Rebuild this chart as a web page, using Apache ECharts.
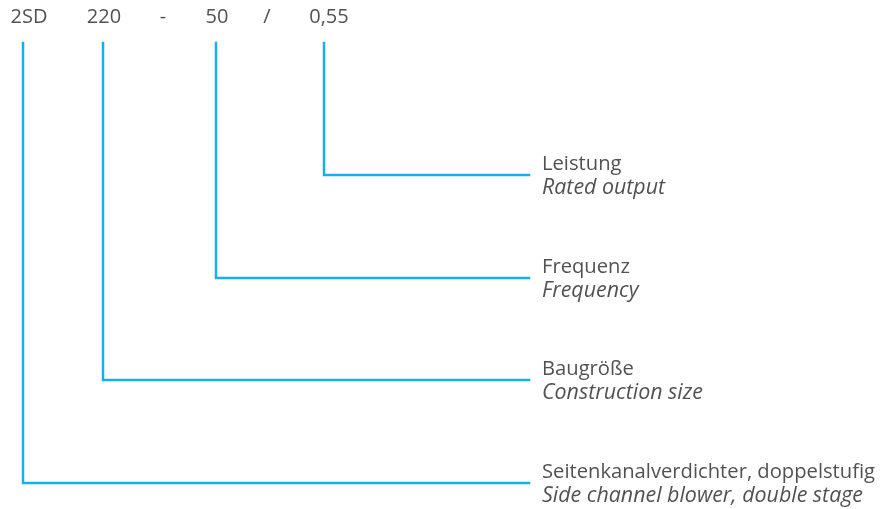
<!DOCTYPE html>
<html>
<head>
<meta charset="utf-8">
<script src="https://cdn.jsdelivr.net/npm/echarts@6/dist/echarts.min.js"></script>
<style>
  html, body { margin: 0; padding: 0; background: #fff; }
  #chart { width: 889px; height: 509px; }
</style>
</head>
<body>
<div id="chart"></div>
<script>
// type code parts, left to right
const codeParts = ['2SD', '220', '-', '50', '/', '0,55']
const codeX = [29, 104, 163, 217, 267, 329]
const codeY = 17

// leader lines: where each one leaves the code and where it turns
const leaderX = [23, 103, 216, 324]
const leaderTop = 43
const leaderLevel = [483, 380, 278, 175]
const leaderEnd = 529

// explanations (German / English)
const labelDe = ['Seitenkanalverdichter, doppelstufig', 'Baugröße', 'Frequenz', 'Leistung']
const labelEn = ['Side channel blower, double stage', 'Construction size', 'Frequency', 'Rated output']
const labelX = 542

const blue = '#14b0ee'
const textColor = '#262626'
const font = '"Open Sans", "Noto Sans", sans-serif'

const chart = echarts.init(document.getElementById('chart'))

const leaderSeries = leaderX.map((x, i) => ({
  type: 'line',
  data: [[x, leaderTop], [x, leaderLevel[i]], [leaderEnd, leaderLevel[i]]],
  symbol: 'none',
  silent: true,
  animation: false,
  lineStyle: { color: blue, width: 2.5, cap: 'square', join: 'miter' },
}))

chart.setOption({
  animation: false,
  grid: { left: 0, right: 0, top: 0, bottom: 0 },
  xAxis: { type: 'value', min: 0, max: 889, show: false },
  yAxis: { type: 'value', min: 0, max: 509, inverse: true, show: false },
  series: [
    ...leaderSeries,
    {
      type: 'scatter',
      symbolSize: 0,
      silent: true,
      data: codeParts.map((c, i) => [codeX[i], codeY, c]),
      label: {
        show: true,
        position: 'inside',
        formatter: (p) => p.data[2],
        color: textColor,
        fontFamily: font,
        fontSize: 20,
      },
    },
    {
      type: 'scatter',
      symbolSize: 0,
      silent: true,
      data: labelDe.map((d, i) => [labelX, leaderLevel[i] + 1, d, labelEn[i]]),
      label: {
        show: true,
        position: 'inside',
        align: 'left',
        verticalAlign: 'middle',
        formatter: (p) => '{de|' + p.data[2] + '}\n{en|' + p.data[3] + '}',
        rich: {
          de: { color: textColor, fontFamily: font, fontSize: 20.2, lineHeight: 23 },
          en: { color: textColor, fontFamily: font, fontSize: 21.4, fontStyle: 'italic', lineHeight: 24 },
        },
      },
    },
  ],
})
</script>
</body>
</html>
